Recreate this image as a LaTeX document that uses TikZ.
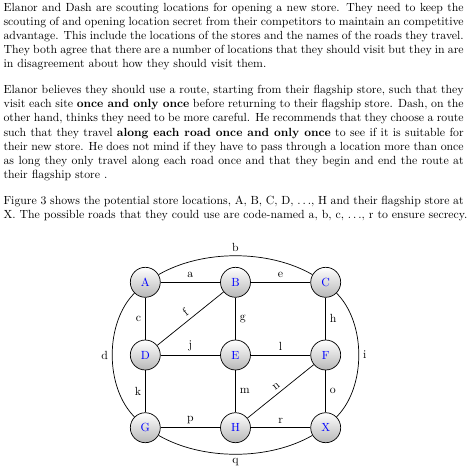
\documentclass[tikz,border=0pt]{standalone}
\usetikzlibrary{shadings}
\newcommand{\fullline}[1]{\makebox[390pt][s]{#1}}
\begin{document}
\begin{tikzpicture}[x=0.8475pt,y=-0.8475pt,
  stn/.style={circle,draw=black,semithick,shade,top color=white,bottom color=black!28,
    text=blue,minimum size=25.4pt,inner sep=0pt,font=\normalsize},
  road/.style={draw=black,semithick},
  lbl/.style={font=\normalsize,text=black},
  tline/.style={anchor=base west,inner sep=0pt,font=\normalsize}]
\useasboundingbox (0,0) rectangle (475,474);
% paragraph 1
\node[tline] (t1) at (3.3,11) {\fullline{Elanor and Dash are scouting locations for opening a new store. They need to keep the}};
\node[tline] (t2) at (3.3,25.2) {\fullline{scouting of and opening location secret from their competitors to maintain an competitive}};
\node[tline] (t3) at (3.3,39.4) {\fullline{advantage. This include the locations of the stores and the names of the roads they travel.}};
\node[tline] (t4) at (3.3,53.6) {\fullline{They both agree that there are a number of locations that they should visit but they in are}};
\node[tline] (t5) at (3.3,67.8) {in disagreement about how they should visit them.};
% paragraph 2
\node[tline] (t6) at (3.3,93.4) {\fullline{Elanor believes they should use a route, starting from their flagship store, such that they}};
\node[tline] (t7) at (3.3,107.6) {\fullline{visit each site \textbf{once and only once} before returning to their flagship store. Dash, on the}};
\node[tline] (t8) at (3.3,121.8) {\fullline{other hand, thinks they need to be more careful. He recommends that they choose a route}};
\node[tline] (t9) at (3.3,136) {\fullline{such that they travel \textbf{along each road once and only once} to see if it is suitable for}};
\node[tline] (t10) at (3.3,150.2) {\fullline{their new store. He does not mind if they have to pass through a location more than once}};
\node[tline] (t11) at (3.3,164.4) {\fullline{as long they only travel along each road once and that they begin and end the route at}};
\node[tline] (t12) at (3.3,178.6) {their flagship store .};
% paragraph 3
\node[tline] (t13) at (3.3,204.6) {\fullline{Figure 3 shows the potential store locations, A, B, C, D, $\ldots$, H and their flagship store at}};
\node[tline] (t14) at (3.3,218.8) {X. The possible roads that they could use are code-named a, b, c, $\ldots$, r to ensure secrecy.};
% stations
\node[stn] (A) at (145.3,282.3) {A};
\node[stn] (B) at (235.5,282.3) {B};
\node[stn] (C) at (325.7,282.3) {C};
\node[stn] (D) at (145.3,355) {D};
\node[stn] (E) at (235.5,355) {E};
\node[stn] (F) at (325.7,355) {F};
\node[stn] (G) at (145.3,427.7) {G};
\node[stn] (H) at (235.5,427.7) {H};
\node[stn] (X) at (325.7,427.7) {X};
% roads
\draw[road] (A) -- node[lbl,above] {a} (B);
\draw[road] (B) -- node[lbl,above] {e} (C);
\draw[road] (D) -- node[lbl,above] {j} (E);
\draw[road] (E) -- node[lbl,above] {l} (F);
\draw[road] (G) -- node[lbl,above] {p} (H);
\draw[road] (H) -- node[lbl,above] {r} (X);
\draw[road] (A) -- node[lbl,left] {c} (D);
\draw[road] (D) -- node[lbl,left] {k} (G);
\draw[road] (B) -- node[lbl,right] {g} (E);
\draw[road] (E) -- node[lbl,right] {m} (H);
\draw[road] (C) -- node[lbl,right] {h} (F);
\draw[road] (F) -- node[lbl,right] {o} (X);
\draw[road] (D) -- node[lbl,sloped,above] {f} (B);
\draw[road] (H) -- node[lbl,sloped,above] {n} (F);
\draw[road] (A) to[out=30,in=150,looseness=0.84] node[lbl,above] {b} (C);
\draw[road] (A) to[out=225,in=135,looseness=0.87] node[lbl,left] {d} (G);
\draw[road] (C) to[out=-45,in=45,looseness=0.87] node[lbl,right] {i} (X);
\draw[road] (G) to[out=-30,in=210,looseness=0.84] node[lbl,below] {q} (X);
\end{tikzpicture}
\end{document}
